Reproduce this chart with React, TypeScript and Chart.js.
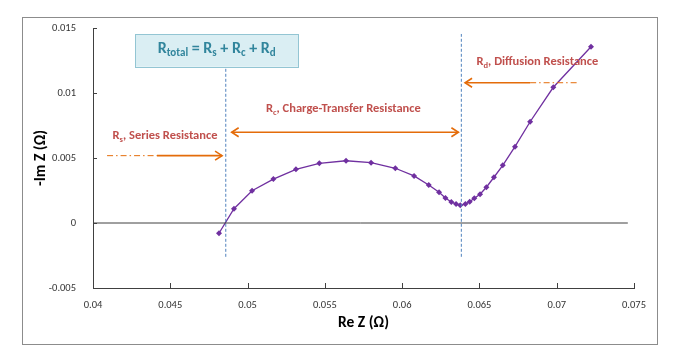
import React, { useEffect, useRef } from "react";
import { Chart, registerables } from "chart.js";

Chart.register(...registerables);

// ---- Data ----
const reZ = [
  0.04815, 0.04912, 0.05029, 0.05167, 0.05313, 0.05464, 0.05637, 0.05799, 0.05956,
  0.06077, 0.06172, 0.06239, 0.0628, 0.06318, 0.06349, 0.06376, 0.06409, 0.06437,
  0.06467, 0.06504, 0.06545, 0.06594, 0.06651, 0.0673, 0.06828, 0.06978, 0.07222,
];
const negImZ = [
  -0.00079, 0.0011, 0.00248, 0.00338, 0.00413, 0.00459, 0.00479, 0.00464, 0.00421,
  0.00362, 0.00292, 0.00236, 0.00192, 0.00162, 0.00146, 0.00136, 0.00146, 0.00164,
  0.0019, 0.00221, 0.00275, 0.00352, 0.00444, 0.00587, 0.00779, 0.01044, 0.01356,
];

const xTicks = [0.04, 0.045, 0.05, 0.055, 0.06, 0.065, 0.07, 0.075];
const yTicks = [-0.005, 0, 0.005, 0.01, 0.015];

// reference lines
const zeroLineX = [0.04, 0.0746];
const rsBoundaryX = 0.04859;
const rsBoundaryY = [-0.0026, 0.012];
const rcBoundaryX = 0.06383;
const rcBoundaryY = [-0.0026, 0.01454];

// annotation arrows (data coordinates)
const rsArrow = { dashFrom: 0.04091, solidFrom: 0.04414, to: 0.04835, y: 0.00518 };
const rcArrow = { from: 0.04897, to: 0.06364, y: 0.00698 };
const rdArrow = { dashFrom: 0.07145, solidFrom: 0.06828, to: 0.06407, y: 0.01079 };

// annotation texts: [main, subscript, rest] and centre in data coords
const rsLabel = { parts: ["R", "s", ", Series Resistance"], x: 0.04466, y: 0.00669 };
const rcLabel = { parts: ["R", "c", ", Charge-Transfer Resistance"], x: 0.0562, y: 0.00877 };
const rdLabel = { parts: ["R", "d", ", Diffusion Resistance"], x: 0.06875, y: 0.01236 };

const totalBox = { x1: 0.04272, x2: 0.05328, y1: 0.01454, y2: 0.01202 };
const totalParts = [
  ["R", false], ["total", true], [" = R", false], ["s", true],
  [" + R", false], ["c", true], [" + R", false], ["d", true],
] as [string, boolean][];

const FONT = "Carlito, Lato, 'Open Sans', sans-serif";
const RED = "#c0504d";
const ORANGE = "#e46c0a";
const PURPLE = "#7030a0";
const BLUE_DASH = "#4f81bd";

function drawSubText(ctx: CanvasRenderingContext2D, parts: [string, boolean][], cx: number, cy: number, size: number, subSize: number, color: string) {
  ctx.save();
  ctx.fillStyle = color;
  ctx.textBaseline = "middle";
  ctx.textAlign = "left";
  let total = 0;
  for (const [t, sub] of parts) {
    ctx.font = `bold ${sub ? subSize : size}px ${FONT}`;
    total += ctx.measureText(t).width;
  }
  let x = cx - total / 2;
  for (const [t, sub] of parts) {
    ctx.font = `bold ${sub ? subSize : size}px ${FONT}`;
    ctx.fillText(t, x, sub ? cy + size * 0.3 : cy);
    x += ctx.measureText(t).width;
  }
  ctx.restore();
}

function arrowHead(ctx: CanvasRenderingContext2D, x: number, y: number, dir: number) {
  ctx.beginPath();
  ctx.moveTo(x - dir * 7, y - 4.5);
  ctx.lineTo(x, y);
  ctx.lineTo(x - dir * 7, y + 4.5);
  ctx.stroke();
}

const annotationPlugin = {
  id: "annotations",
  beforeDraw(chart: any) {
    const ctx = chart.ctx as CanvasRenderingContext2D;
    ctx.save();
    ctx.fillStyle = "#ffffff";
    ctx.fillRect(0, 0, chart.width, chart.height);
    ctx.strokeStyle = "#8c8c8c";
    ctx.lineWidth = 1;
    ctx.strokeRect(22.5, 17.5, 635, 327);
    ctx.restore();
  },
  afterDatasetsDraw(chart: any) {
    const ctx = chart.ctx as CanvasRenderingContext2D;
    const xs = chart.scales.x;
    const ys = chart.scales.y;
    const px = (v: number) => xs.getPixelForValue(v);
    const py = (v: number) => ys.getPixelForValue(v);
    const area = chart.chartArea;

    // inner tick marks
    ctx.save();
    ctx.strokeStyle = "#404040";
    ctx.lineWidth = 1;
    for (const t of xTicks) {
      const x = Math.round(px(t)) + 0.5;
      ctx.beginPath();
      ctx.moveTo(x, area.bottom);
      ctx.lineTo(x, area.bottom - 5);
      ctx.stroke();
    }
    for (const t of yTicks) {
      const y = Math.round(py(t)) + 0.5;
      ctx.beginPath();
      ctx.moveTo(area.left, y);
      ctx.lineTo(area.left + 4, y);
      ctx.stroke();
    }
    ctx.restore();

    // arrows
    ctx.save();
    ctx.strokeStyle = ORANGE;
    ctx.lineWidth = 1.6;
    // Rs
    let y = py(rsArrow.y);
    ctx.setLineDash([6, 3, 1.5, 3]);
    ctx.lineWidth = 1;
    ctx.beginPath();
    ctx.moveTo(px(rsArrow.dashFrom), y);
    ctx.lineTo(px(rsArrow.solidFrom), y);
    ctx.stroke();
    ctx.setLineDash([]);
    ctx.lineWidth = 1.6;
    ctx.beginPath();
    ctx.moveTo(px(rsArrow.solidFrom), y);
    ctx.lineTo(px(rsArrow.to), y);
    ctx.stroke();
    arrowHead(ctx, px(rsArrow.to), y, 1);
    // Rc
    y = py(rcArrow.y);
    ctx.beginPath();
    ctx.moveTo(px(rcArrow.from), y);
    ctx.lineTo(px(rcArrow.to), y);
    ctx.stroke();
    arrowHead(ctx, px(rcArrow.from), y, -1);
    arrowHead(ctx, px(rcArrow.to), y, 1);
    // Rd
    y = py(rdArrow.y);
    ctx.beginPath();
    ctx.moveTo(px(rdArrow.solidFrom), y);
    ctx.lineTo(px(rdArrow.to), y);
    ctx.stroke();
    arrowHead(ctx, px(rdArrow.to), y, -1);
    ctx.setLineDash([6, 3, 1.5, 3]);
    ctx.lineWidth = 1;
    ctx.beginPath();
    ctx.moveTo(px(rdArrow.solidFrom), y);
    ctx.lineTo(px(rdArrow.dashFrom), y);
    ctx.stroke();
    ctx.restore();

    // labels
    for (const l of [rsLabel, rcLabel, rdLabel]) {
      drawSubText(
        ctx,
        [[l.parts[0], false], [l.parts[1], true], [l.parts[2], false]],
        px(l.x), py(l.y), 12.5, 8.5, RED
      );
    }

    // total box
    const bx1 = px(totalBox.x1), bx2 = px(totalBox.x2);
    const by1 = py(totalBox.y1), by2 = py(totalBox.y2);
    ctx.save();
    ctx.fillStyle = "#daeef3";
    ctx.fillRect(bx1, by1, bx2 - bx1, by2 - by1);
    ctx.strokeStyle = "#93c5d3";
    ctx.lineWidth = 1;
    ctx.strokeRect(Math.round(bx1) + 0.5, Math.round(by1) + 0.5, Math.round(bx2 - bx1), Math.round(by2 - by1));
    ctx.restore();
    drawSubText(ctx, totalParts, (bx1 + bx2) / 2, (by1 + by2) / 2 - 1.5, 16, 11, "#31859c");
  },
};

export default function App() {
  const ref = useRef<HTMLCanvasElement>(null);
  useEffect(() => {
    if (!ref.current) return;
    const chart = new Chart(ref.current, {
      type: "scatter",
      data: {
        datasets: [
          {
            data: zeroLineX.map((x) => ({ x, y: 0 })),
            showLine: true,
            borderColor: "#404040",
            borderWidth: 1,
            pointRadius: 0,
          },
          {
            data: rsBoundaryY.map((y) => ({ x: rsBoundaryX, y })),
            showLine: true,
            borderColor: BLUE_DASH,
            borderWidth: 1,
            borderDash: [3, 2],
            pointRadius: 0,
          },
          {
            data: rcBoundaryY.map((y) => ({ x: rcBoundaryX, y })),
            showLine: true,
            borderColor: BLUE_DASH,
            borderWidth: 1,
            borderDash: [3, 2],
            pointRadius: 0,
          },
          {
            data: reZ.map((x, i) => ({ x, y: negImZ[i] })),
            showLine: true,
            borderColor: PURPLE,
            backgroundColor: PURPLE,
            borderWidth: 1.3,
            pointStyle: "rectRot",
            pointRadius: 3,
            pointBorderWidth: 0,
          },
        ],
      },
      options: {
        animation: false,
        responsive: false,
        maintainAspectRatio: false,
        events: [],
        layout: { padding: { left: 28, top: 28, right: 45, bottom: 27 } },
        plugins: { legend: { display: false }, tooltip: { enabled: false } },
        scales: {
          x: {
            type: "linear",
            min: 0.04,
            max: 0.075,
            afterBuildTicks: (s: any) => {
              s.ticks = xTicks.map((v) => ({ value: v }));
            },
            afterFit: (s: any) => {
              s.height = 48;
            },
            grid: { display: false },
            border: { display: true, color: "#404040", width: 1 },
            ticks: {
              color: "#333333",
              font: { family: FONT, size: 10.5 },
              padding: 3,
              maxRotation: 0,
              callback: (v: any) => String(+Number(v).toFixed(4)),
            },
            title: {
              display: true,
              text: "Re Z (Ω)",
              color: "#000000",
              font: { family: FONT, size: 15.5, weight: "bold" },
              padding: 4,
            },
          },
          y: {
            type: "linear",
            min: -0.005,
            max: 0.015,
            afterBuildTicks: (s: any) => {
              s.ticks = yTicks.map((v) => ({ value: v }));
            },
            afterFit: (s: any) => {
              s.width = 65;
            },
            grid: { display: false },
            border: { display: true, color: "#404040", width: 1 },
            ticks: {
              color: "#333333",
              font: { family: FONT, size: 10.5 },
              padding: 9,
              callback: (v: any) => String(+Number(v).toFixed(4)),
            },
            title: {
              display: true,
              text: "-Im Z (Ω)",
              color: "#000000",
              font: { family: FONT, size: 15.5, weight: "bold" },
              padding: 4,
            },
          },
        },
      },
      plugins: [annotationPlugin],
    } as any);
    return () => chart.destroy();
  }, []);

  return (
    <div style={{ position: "fixed", left: 0, top: 0, width: 679, height: 363, background: "#fff" }}>
      <canvas ref={ref} width={679} height={363} style={{ width: 679, height: 363, display: "block" }} />
    </div>
  );
}
